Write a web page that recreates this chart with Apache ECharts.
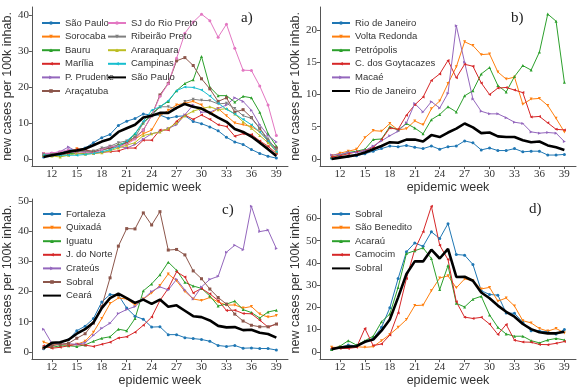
<!DOCTYPE html>
<html>
<head>
<meta charset="utf-8">
<script src="https://cdn.jsdelivr.net/npm/echarts@6/dist/echarts.min.js"></script>
<style>
  html, body { margin: 0; padding: 0; background: #fff; }
  #chart { width: 581px; height: 388px; }
</style>
</head>
<body>
<div id="chart"></div>
<script>
  // epidemic weeks 11..39
  const weeks = [11,12,13,14,15,16,17,18,19,20,21,22,23,24,25,26,27,28,29,30,31,32,33,34,35,36,37,38,39]
  const weekTicks = [12,15,18,21,24,27,30,33,36,39]

  // a) São Paulo
  const spCity     = [0.5,1,1.5,2.5,2.5,3,4.5,5.9,6.8,9.3,10.5,11.2,12.5,12.2,12.2,11.3,11.8,12,10.4,9.8,8.9,7.8,6,4.7,4,2.6,1.5,0.7,0.2]
  const sorocaba   = [1.5,1.2,1.5,2,2.8,2.5,2,2.5,3.3,3.5,4.5,5.5,7,8,12,13.5,15,15.5,16,15,12.5,14,12,10,9.5,9,7.5,5,2]
  const bauru      = [1,1,1,1.5,1.5,1.5,1.8,2.5,3,4,4.5,7,10,12.5,14.5,16,19,21,22,28.5,20,17.6,17.6,15.8,17.4,17,13,7,3.5]
  const marilia    = [1,1,1.2,1.5,2.7,2.5,1.5,1.8,2,2.2,3,3,5.2,5.2,8,8,10.5,12.2,11,12.2,11,9.5,9,6.3,7,6.8,5,3.5,1.5]
  const prudente   = [1.5,1.5,2,3.3,2,2,1.8,2.5,3.5,3.5,3,4,5.5,7,7.5,8.5,9.5,12.3,15,13,13,14,15,17,16,13.5,9.5,6.5,4.7]
  const aracatuba  = [1,1.3,1.5,2,2,2.5,2,2.5,3,3.5,4.5,6,8,12,17.8,21,27.3,28.2,26,22.3,19.5,16,17,13,13.7,11.5,8.5,5,3]
  const sjRioPreto = [1.5,1.6,2,2.5,1.5,1.8,1.5,2.5,3.5,3.5,4,5.5,8,12,17.4,20.9,28,35,38.1,40.3,38.5,33.9,37.5,30.8,24.7,24.6,20.3,15,6.5]
  const ribeirao   = [1.2,1.2,1.5,1.8,2,2,2.2,3,3.5,4.5,5,6,10,12,14.5,14.5,14,16,16.6,16.3,16.2,15.3,15.5,14,12,11.3,8.5,5.5,2.5]
  const araraquara = [1,0.8,0.5,1,1.5,1.3,1.5,1.7,2.3,3,3.8,4.5,6.5,7,7.5,8.5,10,12,13.3,14,14.5,13.7,14,12.5,10.3,8.5,6.5,4.5,2]
  const campinas   = [1,1,1,1,1,1.2,1.5,2,2.5,3.5,5,7,10.5,13.5,14.5,16.2,19,20,19.9,19.2,17.5,15.5,13.8,12.5,11,9.5,7.5,5,2]
  const spState    = [0.5,1,1.4,2,2.3,2.8,3.8,4.8,5.5,7.5,8.5,9.5,11.5,12,12.8,12.8,14.2,15.3,14.5,14,12.8,11.5,10.3,8.3,7.5,6.2,4.5,2.7,0.8]

  // b) Rio de Janeiro
  const rjCity       = [0.1,0.3,0.4,0.5,0.8,1.2,1.6,2,1.9,2.1,1.8,1.6,2,1.5,1.9,2,2.8,2.5,1.4,1.7,1.3,1.3,1.6,1.1,1.2,1.2,0.6,0.6,0.7]
  const voltaRedonda = [0.5,0.9,1.2,1.5,3.3,4.4,4.3,5.5,4.5,4.7,5.9,5.3,7.8,9,11.7,14.3,18.2,17.6,16.2,16.3,13.5,12.4,12.7,8.5,9.3,9.4,8.3,6.3,4.2]
  const petropolis   = [0.3,0.6,1,1.2,1.5,3,3.1,5,4.5,5.5,4.8,3.9,6.1,6.9,8.1,7.3,9.8,10.6,13.2,14.2,11.4,10.4,12.8,14.5,13.8,16.6,22.5,21.4,11.9]
  const goytacazes   = [0.3,0.5,0.8,1.1,1.3,1.8,3,4.8,4.6,6.8,8.4,9.6,12.2,13.2,15.3,12.6,14.7,14.4,11.8,10,11,11.1,10.7,10.3,6.5,6.6,5.6,4.6,4.5]
  const macae        = [0.6,0.7,1,1,1.3,2,2.8,3.6,4.3,5.6,8.6,7.3,8.9,7.9,10.2,20.7,15,9.3,7.4,7,7,6.4,5.7,5.5,4.2,4,4.1,4,2.7]
  const rjState      = [0,0.2,0.4,0.6,1,1.5,2,2.6,2.5,3,3,2.7,3.7,3.4,4.1,4.7,5.5,4.9,4,4.1,3.5,3.4,3.4,2.9,2.6,2.7,2.1,1.8,1.4]

  // c) Ceará
  const fortaleza = [1,2.5,3,4,7,8.5,11,16.5,19,18.8,14.5,11.8,10.8,8.2,8.3,5.7,5.7,4.7,4.4,4.1,3.5,2.1,1.8,2.1,1.2,1.3,1.1,1.1,0.6]
  const quixada   = [3.2,2.5,2.5,2.3,2.5,3.5,6.5,11,16,17.8,17.5,15.5,17.5,19.5,22,25.8,23.5,20,17.5,17,18,16.5,15.5,15.5,14.5,15,12.5,11.5,12]
  const iguatu    = [1.5,1.5,2,2,1.8,2.3,3.5,4.5,5,7.5,7,11,20.2,22.5,25.5,29.7,27,23,21.8,21,18.5,15.2,15.8,16.8,14,13,11.2,13.2,13.8]
  const juazeiro  = [2,1.2,1.5,2,2.5,2.2,1.8,2.5,3.2,4.6,5,6.5,8.8,11.5,17,21,26.5,24.8,19.5,21,19.2,17,13.7,13.8,12.7,12.6,10.5,8.2,9.2]
  const crateus   = [7.5,2.8,2.5,2.7,2.5,3,5.5,7.8,9.5,12.7,14,15,17.5,20,21.5,20.5,24,20.5,17.5,21.5,24,25,33,35.3,33.8,48.2,39.8,40.3,34.2]
  const sobralC   = [1.3,2,2.5,2.8,4.5,6,9.5,15,24.5,35,40.8,40.7,46,42,46.4,33.7,33.9,32.1,26.8,24.2,20.8,18,15.8,12.5,10.2,8.8,8.3,8.3,9.2]
  const ceara     = [1.2,3,3.2,4,6,7.5,9.7,14.5,17.8,19.3,17.8,16.2,17.3,15.9,17.3,14.9,15.4,13.6,11.8,11.5,10.4,8.6,8.1,8.2,7.2,7.3,6.3,5.9,4.7]

  // d) Sobral
  const sobralCity  = [1,2,3,2.7,4.5,6,11,19.8,33,45,49,47.5,54,51,57.7,43.8,43.5,39.3,27.5,25.8,25.5,17.5,17.3,13.3,9.5,9.3,9,8,10]
  const saoBenedito = [2,2,2,2.3,2,2.3,5,7.8,11,14.5,20.8,21,27.5,33.2,34.2,28.8,32.8,32,28.3,29,22.8,24.2,20.6,14,13,10.5,9.3,10.5,8.5]
  const acarau      = [1,2.5,5,3,5,7,13.5,17,29,44.2,45.5,46.8,42,28,38.8,21.8,20.2,23.7,25,16.6,11,8,7,7,5,4,5.3,6,5.3]
  const camocim     = [1.5,1.5,1.5,2,10.5,2.8,3.5,7.5,17.5,33,46,54,65.5,48,41.5,22.5,15.6,15,15.5,12.5,7.8,12.3,5.2,4.4,4.3,3.3,3.2,3.8,4.6]
  const sobralReg   = [1.2,1.9,2.3,2.5,4.5,5.5,9.5,14.5,24.5,35,40.7,40.7,46,42,46.3,33.7,33.8,32,26.7,24.1,20.8,18,15.8,12.5,10.2,8.8,8.3,8.3,9]

  const C = ['#1f77b4','#ff7f0e','#2ca02c','#d62728','#9467bd','#8c564b','#e377c2','#7f7f7f','#bcbd22','#17becf']
  const sym = [
    ['circle', 0], ['triangle', 180], ['triangle', 0], ['triangle', 90], ['triangle', -90],
    ['rect', 0], ['circle', 0], ['triangle', 180], ['triangle', 0], ['triangle', 90]
  ]

  function line(panel, label, values, i) {
    return {
      name: label + '|' + panel,
      type: 'line',
      xAxisIndex: panel,
      yAxisIndex: panel,
      data: weeks.map((w, k) => [w, values[k]]),
      symbol: sym[i][0],
      symbolRotate: sym[i][1],
      symbolSize: 3,
      color: C[i],
      lineStyle: { width: 1, color: C[i] },
      itemStyle: { color: C[i] }
    }
  }
  function total(panel, label, values) {
    return {
      name: label + '|' + panel,
      type: 'line',
      xAxisIndex: panel,
      yAxisIndex: panel,
      data: weeks.map((w, k) => [w, values[k]]),
      showSymbol: false,
      symbol: 'none',
      color: '#000',
      lineStyle: { width: 2.6, color: '#000' },
      isTotal: true,
      z: 5
    }
  }

  const series = [
    line(0, 'São Paulo', spCity, 0),
    line(0, 'Sorocaba', sorocaba, 1),
    line(0, 'Bauru', bauru, 2),
    line(0, 'Marília', marilia, 3),
    line(0, 'P. Prudente', prudente, 4),
    line(0, 'Araçatuba', aracatuba, 5),
    line(0, 'SJ do Rio Preto', sjRioPreto, 6),
    line(0, 'Ribeirão Preto', ribeirao, 7),
    line(0, 'Araraquara', araraquara, 8),
    line(0, 'Campinas', campinas, 9),
    total(0, 'São Paulo ', spState),

    line(1, 'Rio de Janeiro', rjCity, 0),
    line(1, 'Volta Redonda', voltaRedonda, 1),
    line(1, 'Petrópolis', petropolis, 2),
    line(1, 'C. dos Goytacazes', goytacazes, 3),
    line(1, 'Macaé', macae, 4),
    total(1, 'Rio de Janeiro ', rjState),

    line(2, 'Fortaleza', fortaleza, 0),
    line(2, 'Quixadá', quixada, 1),
    line(2, 'Iguatu', iguatu, 2),
    line(2, 'J. do Norte', juazeiro, 3),
    line(2, 'Crateús', crateus, 4),
    line(2, 'Sobral', sobralC, 5),
    total(2, 'Ceará', ceara),

    line(3, 'Sobral', sobralCity, 0),
    line(3, 'São Benedito', saoBenedito, 1),
    line(3, 'Acaraú', acarau, 2),
    line(3, 'Camocim', camocim, 3),
    total(3, 'Sobral ', sobralReg)
  ]

  // legend entries; the black totals get no marker
  const items = p => series.filter(s => s.xAxisIndex === p).map(s =>
    s.isTotal ? { name: s.name, itemStyle: { opacity: 0 } } : { name: s.name })

  const grids = [
    { left: 30, top: 7, width: 258, height: 159 },
    { left: 320, top: 7, width: 256, height: 159 },
    { left: 30, top: 199, width: 258, height: 161 },
    { left: 320, top: 199, width: 256, height: 161 }
  ]
  const yRange = [[-2.0, 42.3], [-1.1, 23.6], [-2.4, 50.6], [-3.3, 68.8]]
  const yTicks = [[0,10,20,30,40], [0,5,10,15,20], [0,10,20,30,40,50], [0,10,20,30,40,50,60]]

  const axisGray = '#555'
  const tickFont = { fontFamily: 'Liberation Serif', fontSize: 11, color: '#333' }
  const nameFont = { fontFamily: 'Liberation Sans', fontSize: 12.5, color: '#333' }

  const xAxis = grids.map((g, i) => ({
    type: 'value', gridIndex: i, min: 9.6, max: 40.4,
    name: 'epidemic week', nameLocation: 'middle', nameGap: 11, nameTextStyle: nameFont,
    axisLine: { show: true, onZero: false, lineStyle: { color: axisGray, width: 1 } },
    axisTick: { show: true, length: 3, customValues: weekTicks, lineStyle: { color: axisGray } },
    axisLabel: { customValues: weekTicks, margin: 3, ...tickFont },
    splitLine: { show: false }
  }))
  const yAxis = grids.map((g, i) => ({
    type: 'value', gridIndex: i, min: yRange[i][0], max: yRange[i][1],
    name: 'new cases per 100k inhab.', nameLocation: 'middle', nameGap: 15, nameTextStyle: nameFont,
    axisLine: { show: true, onZero: false, lineStyle: { color: axisGray, width: 1 } },
    axisTick: { show: true, length: 3, customValues: yTicks[i], lineStyle: { color: axisGray } },
    axisLabel: { customValues: yTicks[i], margin: 3, ...tickFont },
    splitLine: { show: false }
  }))

  const legendBase = {
    orient: 'vertical', itemWidth: 18, itemHeight: 4.5, itemGap: 3.6,
    textStyle: { fontFamily: 'Liberation Sans Narrow, Liberation Sans', fontSize: 9.5, color: '#333' },
    formatter: n => n.split('|')[0].trim(),
    selectedMode: false
  }
  const a = items(0), b = items(1), c = items(2), d = items(3)
  const legend = [
    { ...legendBase, left: 36, top: 13, data: a.slice(0, 6) },
    { ...legendBase, left: 102, top: 13, data: a.slice(6) },
    { ...legendBase, left: 326, top: 13, data: b },
    { ...legendBase, left: 37, top: 204, data: c },
    { ...legendBase, left: 326, top: 204, data: d }
  ]

  const panelFont = { fontFamily: 'Liberation Serif', fontSize: 15, fontWeight: 'normal', color: '#222' }
  const title = [
    { text: 'a)', left: 241, top: 11, textStyle: panelFont, padding: 0 },
    { text: 'b)', left: 511, top: 11, textStyle: panelFont, padding: 0 },
    { text: 'c)', left: 222, top: 203, textStyle: panelFont, padding: 0 },
    { text: 'd)', left: 529, top: 202, textStyle: panelFont, padding: 0 }
  ]

  const chart = echarts.init(document.getElementById('chart'))
  chart.setOption({
    animation: false,
    backgroundColor: '#fff',
    title: title,
    legend: legend,
    grid: grids,
    xAxis: xAxis,
    yAxis: yAxis,
    series: series
  })
</script>
</body>
</html>
